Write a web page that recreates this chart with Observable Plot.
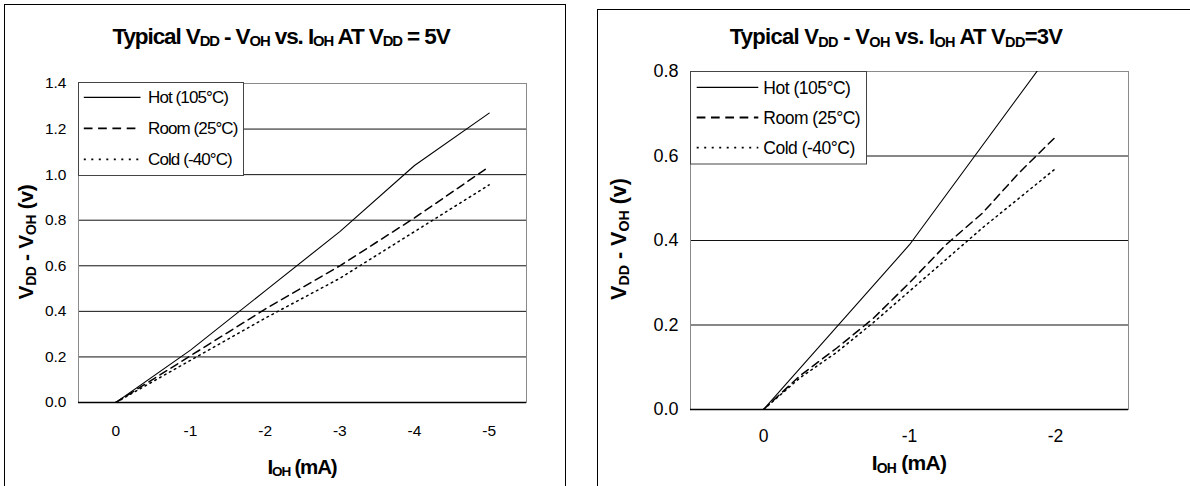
<!DOCTYPE html>
<html><head><meta charset="utf-8">
<script src="https://cdn.jsdelivr.net/npm/d3@7"></script>
<script src="https://cdn.jsdelivr.net/npm/@observablehq/plot@0.6"></script>
<style>
html,body{margin:0;padding:0;background:#fff;}
#root{position:relative;width:1190px;height:486px;overflow:hidden;font-family:"Liberation Sans",Arial,sans-serif;color:#000;}
.frame{position:absolute;border:1.7px solid #000;box-sizing:border-box;}
.lbl{position:absolute;white-space:nowrap;font-weight:bold;line-height:1;}
.sub{font-size:0.66em;position:relative;top:0.2em;}
.chart{position:absolute;top:0;}
</style></head><body><div id="root"></div>
<script>
// ---------- data ----------
const seriesNames = ["Hot (105°C)", "Room (25°C)", "Cold (-40°C)"];

// VDD = 5V chart
const xTicks5 = [0, -1, -2, -3, -4, -5];
const yTicks5 = [0, 0.2, 0.4, 0.6, 0.8, 1.0, 1.2, 1.4];
const ioh5 = [0, -1, -2, -3, -4, -5];
const hot5 = [0, 0.23, 0.49, 0.75, 1.04, 1.27];
const room5 = [0, 0.205, 0.41, 0.60, 0.81, 1.035];
const cold5 = [0, 0.185, 0.37, 0.545, 0.75, 0.955];

// VDD = 3V chart
const xTicks3 = [0, -1, -2];
const yTicks3 = [0, 0.2, 0.4, 0.6, 0.8];
const iohHot3 = [0, -1, -2];
const hot3 = [0, 0.39, 0.86];
const ioh3 = [0, -0.25, -0.5, -0.75, -1, -1.25, -1.5, -1.75, -2];
const room3 = [0, 0.08, 0.145, 0.215, 0.30, 0.39, 0.465, 0.56, 0.645];
const cold3 = [0, 0.075, 0.135, 0.205, 0.28, 0.355, 0.43, 0.50, 0.57];

// ---------- styles ----------
const lineStyles = [
  {dash: null, width: 1.1},
  {dash: "8,5", width: 1.5},
  {dash: "1.6,4", width: 1.5}
];
const legendStyles = [
  {dash: null, width: 1.2},
  {dash: "8.7,5.6", width: 1.8},
  {dash: "2,5.5", width: 1.8}
];

const root = document.getElementById("root");

function toRows(xs, ys, name) { return xs.map((x, i) => ({ioh: x, v: ys[i], name})); }

function addDiv(html, cls, css) {
  const d = document.createElement("div");
  d.className = cls;
  d.innerHTML = html;
  Object.assign(d.style, css);
  root.appendChild(d);
  return d;
}

function makeChart(cfg) {
  const series = cfg.series;
  const marks = [
    Plot.ruleY(cfg.yTicks.slice(1, -1), {stroke: "#111", strokeWidth: 1}),
    Plot.frame({stroke: "#8a8a8a", strokeWidth: 1}),
    Plot.ruleY([cfg.yTicks[0]], {stroke: "#000", strokeWidth: 1.3}),
    Plot.axisX({ticks: cfg.xTicks, tickSize: 0, tickPadding: cfg.xPad, tickFormat: d => String(d), label: null, fontSize: cfg.xFont, fill: "#000"}),
    Plot.axisY({ticks: cfg.yTicks, tickSize: 0, tickPadding: cfg.yPad, tickFormat: d => d.toFixed(1), label: null, fontSize: cfg.yFont, fill: "#000"})
  ];
  series.forEach((s, i) => {
    marks.push(Plot.line(toRows(s.x, s.y, seriesNames[i]), {
      x: "ioh", y: "v", stroke: "#000",
      strokeWidth: lineStyles[i].width,
      strokeDasharray: lineStyles[i].dash,
      clip: true
    }));
  });
  const svg = Plot.plot({
    width: cfg.width, height: 486,
    marginLeft: cfg.ml, marginRight: cfg.mr, marginTop: cfg.mt, marginBottom: cfg.mb,
    x: {domain: cfg.xDomain, label: null},
    y: {domain: cfg.yDomain, label: null},
    style: {fontFamily: "Liberation Sans, Arial, sans-serif", fontSize: cfg.yFont + "px", color: "#000", background: "transparent", overflow: "visible"},
    marks
  });
  svg.classList.add("chart");
  svg.style.left = cfg.left + "px";
  svg.style.position = "absolute";
  root.appendChild(svg);
}

function makeLegend(cfg) {
  const svg = d3.create("svg")
    .attr("width", cfg.w).attr("height", cfg.h)
    .style("position", "absolute").style("left", cfg.x + "px").style("top", cfg.y + "px")
    .style("overflow", "visible");
  svg.append("rect").attr("x", 0.5).attr("y", 0.5).attr("width", cfg.w - 1).attr("height", cfg.h - 1)
    .attr("fill", "#fff").attr("stroke", "#444").attr("stroke-width", 1);
  seriesNames.forEach((name, i) => {
    const yy = cfg.row0 + i * cfg.rowStep;
    svg.append("line").attr("x1", cfg.s0).attr("x2", cfg.s1).attr("y1", yy).attr("y2", yy)
      .attr("stroke", "#000").attr("stroke-width", legendStyles[i].width)
      .attr("stroke-dasharray", legendStyles[i].dash);
    svg.append("text").attr("x", cfg.tx).attr("y", yy).attr("dy", "0.36em")
      .attr("font-family", "Liberation Sans, Arial, sans-serif")
      .attr("font-size", cfg.fs).attr("letter-spacing", cfg.ls)
      .text(name);
  });
  root.appendChild(svg.node());
}

// frames
addDiv("", "frame", {left: "4.2px", top: "4px", width: "562px", height: "600px"});
addDiv("", "frame", {left: "597.3px", top: "9.3px", width: "700px", height: "600px"});

// left chart
makeChart({
  left: 0, width: 600, ml: 78, mr: 74, mt: 83, mb: 84,
  xDomain: [0.5, -5.5], yDomain: [0, 1.4], xTicks: xTicks5, yTicks: yTicks5,
  xPad: 22, yPad: 12, xFont: 15.5, yFont: 15.5,
  series: [{x: ioh5, y: hot5}, {x: ioh5, y: room5}, {x: ioh5, y: cold5}]
});
// right chart
makeChart({
  left: 590, width: 600, ml: 100, mr: 62, mt: 71, mb: 77,
  xDomain: [0.5, -2.5], yDomain: [0, 0.8], xTicks: xTicks3, yTicks: yTicks3,
  xPad: 20, yPad: 12, xFont: 17.5, yFont: 18,
  series: [{x: iohHot3, y: hot3}, {x: ioh3, y: room3}, {x: ioh3, y: cold3}]
});

makeLegend({x: 77.5, y: 82.2, w: 166, h: 94, row0: 15.3, rowStep: 31, s0: 5.8, s1: 62.5, tx: 70, fs: "17px", ls: "-0.9px"});
makeLegend({x: 690, y: 71, w: 177, h: 93.5, row0: 16.3, rowStep: 30.2, s0: 6.7, s1: 68.3, tx: 73.3, fs: "17.5px", ls: "-0.5px"});

// titles and axis labels
const T5 = 'Typical V<span class="sub">DD</span> - V<span class="sub">OH</span> vs. I<span class="sub">OH</span> AT V<span class="sub">DD</span> = 5V';
const T3 = 'Typical V<span class="sub">DD</span> - V<span class="sub">OH</span> vs. I<span class="sub">OH</span> AT V<span class="sub">DD</span>=3V';
const YL = 'V<span class="sub">DD</span> - V<span class="sub">OH</span> (v)';
const XL = 'I<span class="sub">OH</span> (mA)';

addDiv(T5, "lbl", {left: "281px", top: "36.5px", fontSize: "22.5px", letterSpacing: "-1.1px", transform: "translate(-50%,-50%)"});
addDiv(T3, "lbl", {left: "896px", top: "36.8px", fontSize: "22px", letterSpacing: "-0.7px", transform: "translate(-50%,-50%)"});
addDiv(YL, "lbl", {left: "25px", top: "241.5px", fontSize: "21px", letterSpacing: "-0.3px", transform: "translate(-50%,-50%) rotate(-90deg)"});
addDiv(YL, "lbl", {left: "620px", top: "239px", fontSize: "21.5px", letterSpacing: "0px", transform: "translate(-50%,-50%) rotate(-90deg)"});
addDiv(XL, "lbl", {left: "302px", top: "466.7px", fontSize: "20.5px", letterSpacing: "-1.2px", transform: "translate(-50%,-50%)"});
addDiv(XL, "lbl", {left: "909px", top: "462.3px", fontSize: "21px", letterSpacing: "-0.7px", transform: "translate(-50%,-50%)"});
</script>
</body></html>
